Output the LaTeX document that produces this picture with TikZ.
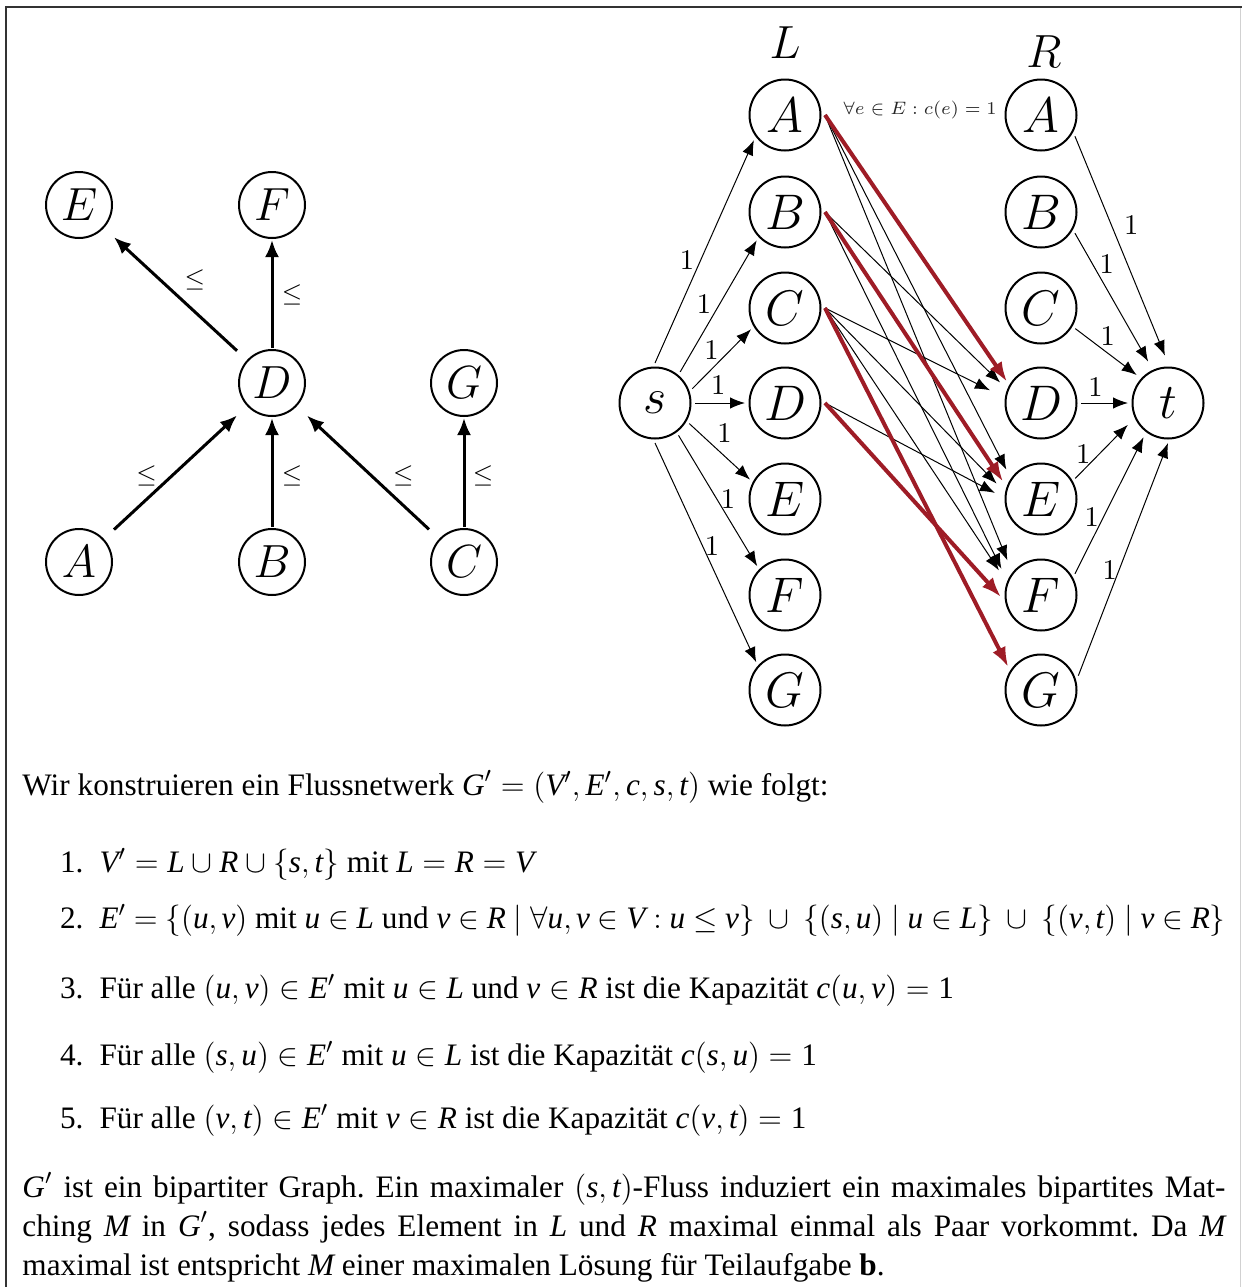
\RequirePackage{fix-cm}
\documentclass[tikz,border=0pt]{standalone}
\usepackage[no-math]{fontspec}
\setmainfont{Liberation Serif}
\usetikzlibrary{arrows.meta}
\newdimen\pxu
\pxu=0.4pt
\definecolor{matchred}{RGB}{158,28,38}
\newcommand\mi[1]{\mbox{\itshape #1}}
\newcommand\tightmath{\thinmuskip=2.5mu\relax\medmuskip=3.5mu\relax\thickmuskip=4.5mu\relax}
\frenchspacing

\begin{document}
\begin{tikzpicture}[x=0.4pt,y=-0.4pt,
  pnode/.style={rectangle, minimum size=68\pxu, inner sep=0pt, outer sep=1\pxu,
    font=\fontsize{18.6}{22}\selectfont,
    path picture={\draw[line width=0.8pt] (path picture bounding box.center) circle[radius=33\pxu];}},
  rnode/.style={circle, draw, line width=0.8pt, minimum size=71\pxu, inner sep=0pt,
    outer sep=4.5\pxu, font=\fontsize{20}{24}\selectfont},
  pedge/.style={line width=1.2pt, -{Latex[length=6.8pt,width=5.6pt]}},
  fedge/.style={line width=0.4pt, -{Latex[length=6pt,width=4.6pt]}},
  medge/.style={line width=1.6pt, draw=matchred, -{Latex[length=8pt,width=5.8pt]}},
  leq/.style={inner sep=0pt, font=\fontsize{10.5}{12}\selectfont},
  one/.style={inner sep=0pt, font=\fontsize{11.4}{13}\selectfont},
  sidename/.style={inner sep=0pt, font=\fontsize{18.6}{22}\selectfont},
  note/.style={inner sep=0pt, font=\fontsize{7.2}{9}\selectfont, text=black!85},
  txt/.style={inner sep=0pt, font=\fontsize{12.5}{15}\selectfont},
]
\useasboundingbox (0,0) rectangle (1242,1287);

% frame
\draw[line width=2\pxu, black!80] (6,1287) -- (6,7) -- (1242,7);
\draw[line width=1\pxu, black!18] (1240.5,8) -- (1240.5,1287);

% ---------- partial order ----------
\node[pnode] (pE) at (79,205) {$E$};
\node[pnode] (pF) at (272,205) {$F$};
\node[pnode] (pD) at (272,383) {$D$};
\node[pnode] (pG) at (464,383) {$G$};
\node[pnode] (pA) at (79,562) {$A$};
\node[pnode] (pB) at (272,562) {$B$};
\node[pnode] (pC) at (464,562) {$C$};

\draw[pedge] (pD) -- node[leq, pos=.473, xshift=15.9\pxu, yshift=17\pxu] (qDE) {$\leq$} (pE);
\draw[pedge] (pD) -- node[leq, pos=.49, xshift=20\pxu] (qDF) {$\leq$} (pF);
\draw[pedge] (pA) -- node[leq, pos=.361, xshift=-11.7\pxu, yshift=12.5\pxu] (qAD) {$\leq$} (pD);
\draw[pedge] (pB) -- node[leq, pos=.468, xshift=20\pxu] (qBD) {$\leq$} (pD);
\draw[pedge] (pC) -- node[leq, pos=.331, xshift=14.6\pxu, yshift=15.8\pxu] (qCD) {$\leq$} (pD);
\draw[pedge] (pC) -- node[leq, pos=.468, xshift=19\pxu] (qCG) {$\leq$} (pG);

% ---------- flow network ----------
\node[rnode] (s) at (655,403) {$s$};
\node[rnode] (t) at (1168,403) {$t$};
\foreach \n/\y in {A/115, B/212, C/308, D/403, E/499, F/595, G/690}{
  \node[rnode] (L\n) at (785,\y) {$\n$};
  \node[rnode] (R\n) at (1041,\y) {$\n$};
}
\node[sidename] (Lname) at (785,43) {$L$};
\node[sidename] (Rname) at (1044,52) {$R$};
\node[note] (capnote) at (920,110) {$\forall e\in E: c(e)=1$};

% source edges
\draw[fedge] (s.90)  -- node[one,pos=.44,xshift=-11.5\pxu,yshift=5.1\pxu] (ca) {$1$} (LA.219);
\draw[fedge] (s.51)  -- node[one,pos=.46,xshift=-11.5\pxu,yshift=6.6\pxu] (cb) {$1$} (LB.225);
\draw[fedge] (s.21)  -- node[one,pos=.49,xshift=-9.6\pxu,yshift=8.8\pxu] (cc) {$1$} (LC.212);
\draw[fedge] (s.0)   -- node[one,pos=.465,yshift=17.3\pxu] (cd) {$1$} (LD.180);
\draw[fedge] (s.-31) -- node[one,pos=.387,xshift=11.8\pxu,yshift=12\pxu] (ce) {$1$} (LE.151);
\draw[fedge] (s.-54) -- node[one,pos=.523,xshift=8.4\pxu,yshift=4.9\pxu] (cf) {$1$} (LF.134);
\draw[fedge] (s.-90) -- node[one,pos=.489,xshift=7.4\pxu,yshift=3.4\pxu] (cg) {$1$} (LG.136);

% order edges between L and R
\draw[fedge, shorten >=6\pxu]  (LB.east) -- (RD.156);
\draw[fedge, shorten >=13\pxu] (LC.east) -- (RD.170);
\draw[fedge, shorten >=6\pxu]  (LA.east) -- (RE.143);
\draw[fedge, shorten >=8\pxu]  (LC.east) -- (RE.166);
\draw[fedge, shorten >=7\pxu]  (LD.east) -- (RE.176);
\draw[fedge, shorten >=9\pxu]  (LA.east) -- (RF.139);
\draw[fedge, shorten >=9\pxu]  (LB.east) -- (RF.153);
\draw[fedge, shorten >=10\pxu] (LC.east) -- (RF.156);

% matching
\draw[medge] (LA.east) -- (RD.148);
\draw[medge, shorten >=2\pxu] (LB.east) -- (RE.157);
\draw[medge] (LC.east) -- (RG.145);
\draw[medge] (LD.east) -- (RF.183);

% sink edges
\draw[fedge, shorten >=8\pxu] (RA.-32) -- node[one,pos=.42,xshift=17.1\pxu,yshift=6.6\pxu] (da) {$1$} (t.90);
\draw[fedge, shorten >=6\pxu] (RB.-32) -- node[one,pos=.275,xshift=10.8\pxu,yshift=5.8\pxu] (db) {$1$} (t.115);
\draw[fedge, shorten >=2\pxu] (RC.-31) -- node[one,pos=.383,xshift=8.3\pxu,yshift=10.6\pxu] (dc) {$1$} (t.138);
\draw[fedge] (RD.0) -- node[one,pos=.31,yshift=15.7\pxu] (dd) {$1$} (t.180);
\draw[fedge, shorten >=6\pxu] (RE.31) -- node[one,pos=.287,xshift=-8.3\pxu,yshift=7.7\pxu] (de) {$1$} (t.206);
\draw[fedge, shorten >=2\pxu] (RF.32) -- node[one,pos=.376,xshift=-9.3\pxu,yshift=4.4\pxu] (df) {$1$} (t.234);
\draw[fedge] (RG.21) -- node[one,pos=.44,xshift=-8\pxu,yshift=3\pxu] (dg) {$1$} (t.270);

% ---------- text ----------
\node[txt, anchor=base west] (intro) at (22,795)
  {Wir konstruieren ein Flussnetwerk $\mi{G}'=\bigl(\mi{V}',\mi{E}',\mi{c},\mi{s},\mi{t}\bigr)$ wie folgt:};

\node[txt, anchor=base east] (k1) at (84,872) {1.};
\node[txt, anchor=base west] (e1) at (99,872)
  {$\mi{V}'=\mi{L}\cup\mi{R}\cup\bigl\{\mi{s},\mi{t}\bigr\}$ mit $\mi{L}=\mi{R}=\mi{V}$};
\node[txt, anchor=base east] (k2) at (84,928) {2.};
\node[txt, anchor=base west] (e2) at (99,928)
  {$\tightmath\mi{E}'=\bigl\{\bigl(\mi{u},\mi{v}\bigr)\mbox{ mit }\mi{u}\in\mi{L}\mbox{ und }\mi{v}\in\mi{R}\bigm|\forall\mi{u},\mi{v}\in\mi{V}:\mi{u}\leq\mi{v}\bigr\}\;\cup\;\bigl\{\bigl(\mi{s},\mi{u}\bigr)\bigm|\mi{u}\in\mi{L}\bigr\}\;\cup\;\bigl\{\bigl(\mi{v},\mi{t}\bigr)\bigm|\mi{v}\in\mi{R}\bigr\}$};
\node[txt, anchor=base east] (k3) at (84,998) {3.};
\node[txt, anchor=base west] (e3) at (99,998)
  {Für alle $\bigl(\mi{u},\mi{v}\bigr)\in\mi{E}'$ mit $\mi{u}\in\mi{L}$ und $\mi{v}\in\mi{R}$ ist die Kapazität $\mi{c}\bigl(\mi{u},\mi{v}\bigr)=\mbox{1}$};
\node[txt, anchor=base east] (k4) at (84,1065) {4.};
\node[txt, anchor=base west] (e4) at (99,1065)
  {Für alle $\bigl(\mi{s},\mi{u}\bigr)\in\mi{E}'$ mit $\mi{u}\in\mi{L}$ ist die Kapazität $\mi{c}\bigl(\mi{s},\mi{u}\bigr)=\mbox{1}$};
\node[txt, anchor=base east] (k5) at (84,1128) {5.};
\node[txt, anchor=base west] (e5) at (99,1128)
  {Für alle $\bigl(\mi{v},\mi{t}\bigr)\in\mi{E}'$ mit $\mi{v}\in\mi{R}$ ist die Kapazität $\mi{c}\bigl(\mi{v},\mi{t}\bigr)=\mbox{1}$};

\node[txt, anchor=base west] (par1) at (22,1197)
  {\makebox[1203\pxu][s]{$\mi{G}'$ ist ein bipartiter Graph. Ein maximaler $\bigl(\mi{s},\mi{t}\bigr)$-Fluss induziert ein maximales bipartites Mat-}};
\node[txt, anchor=base west] (par2) at (22,1236)
  {\makebox[1203\pxu][s]{ching $\mi{M}$ in $\mi{G}'$, sodass jedes Element in $\mi{L}$ und $\mi{R}$ maximal einmal als Paar vorkommt. Da $\mi{M}$}};
\node[txt, anchor=base west] (par3) at (22,1275)
  {maximal ist entspricht $\mi{M}$ einer maximalen Lösung für Teilaufgabe \textbf{b}.};
\end{tikzpicture}
\end{document}
